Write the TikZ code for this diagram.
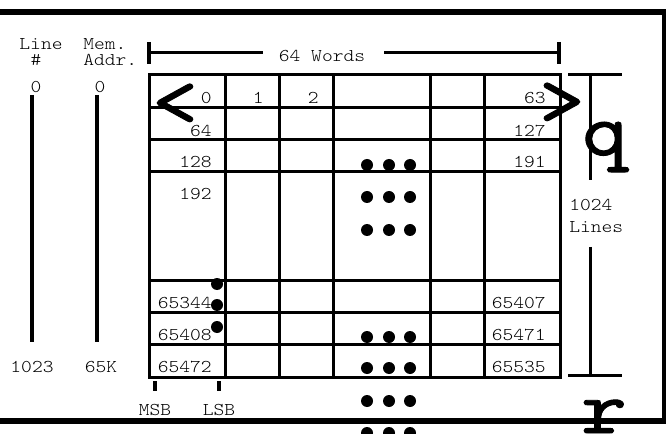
\documentclass[tikz,border=0pt]{standalone}
\usepackage{fontspec}
\setmonofont{lmmonolt10-regular.otf}[FakeStretch=1.14]
\newfontfamily\glyphfont{lmmono10-regular.otf}[FakeStretch=1.14,FakeBold=1.2]
\usetikzlibrary{positioning}

\tikzset{
  lbl/.style={font=\ttfamily\fontsize{13.5}{16}\selectfont,inner sep=0pt},
  cell/.style={lbl,anchor=base east},
  bigglyph/.style={font=\glyphfont\fontsize{57}{60}\selectfont,inner sep=0pt},
  gridline/.style={line width=2.25pt,line cap=rect},
  dimline/.style={line width=2.25pt},
  tickline/.style={line width=3pt},
  frameline/.style={line width=4.5pt},
}

\begin{document}
\begin{tikzpicture}[x=0.75pt,y=-0.75pt]
  \useasboundingbox (0,0) rectangle (666,434);
  \fill[white] (0,0) rectangle (666,434);
  \clip (0,0) rectangle (666,434);
  % outer frame (top, right, bottom)
  \draw[frameline] (0,12) -- (666,12);
  \draw[line width=3pt] (664,12) -- (664,421);
  \draw[frameline] (0,421) -- (666,421);
  % column heads on the left
  \node[lbl,anchor=base] (hline) at (41,50) {Line};
  \node[lbl,anchor=base] (hnum) at (36,66) {\#};
  \node[lbl,anchor=base] (zl) at (36,93) {0};
  \node[lbl,anchor=base west] (hmem) at (83,50) {Mem.};
  \node[lbl,anchor=base west] (haddr) at (83,66) {Addr.};
  \node[lbl,anchor=base] (za) at (100,93) {0};
  \node[lbl,anchor=base] (l1023) at (32,372) {1023};
  \node[lbl,anchor=base] (a65k) at (101,372) {65K};
  \coordinate (ltop) at (32,95);  \coordinate (lend) at (32,342);
  \coordinate (atop) at (97,95);  \coordinate (aend) at (97,342);
  \draw[line width=2.5pt] (ltop) -- (lend);
  \draw[line width=2.5pt] (atop) -- (aend);
  % 64 words
  \coordinate (wl) at (149,53);
  \coordinate (wr) at (559,53);
  \node[lbl,anchor=base] (words) at (322,62) {64 Words};
  \draw[tickline] (149,42) -- (149,64);
  \draw[tickline] (559,42) -- (559,64);
  \draw[dimline] (wl) -- (263,53);
  \draw[dimline] (384,53) -- (wr);
  % memory grid
  \foreach \x in {149,225,279,333,430,484,560}
    \draw[gridline] (\x,75) -- (\x,377);
  \foreach \y in {75,108,140,172,280,312,344,377}
    \draw[gridline] (149,\y) -- (560,\y);
  % addresses
  \foreach \t/\y in {0/104,64/137,128/168,192/200,65344/308,65408/340,65472/372}
    \node[cell] (m\t) at (212,\y) {\t};
  \node[cell] (w1) at (264,104) {1};
  \node[cell] (w2) at (319,104) {2};
  \foreach \t/\y in {63/104,127/137,191/168,65407/308,65471/340,65535/372}
    \node[cell] (m\t) at (546,\y) {\t};
  % dots
  \foreach \y in {165,197,230,337,368,401,433}
    \foreach \x in {367,389,410}
      \fill (\x,\y) circle[radius=6];
  \foreach \y in {284,305,327}
    \fill (217,\y) circle[radius=6];
  % 1024 lines
  \coordinate (ntop) at (590,75);
  \coordinate (nbot) at (590,375);
  \draw[dimline] (568,75) -- (622,75);
  \draw[dimline] (568,375) -- (622,375);
  \node[lbl,anchor=base west] (n1024) at (569,211) {1024};
  \node[lbl,anchor=base west] (nlines) at (569,233) {Lines};
  \draw[dimline] (ntop) -- (590,180);
  \draw[dimline] (590,247) -- (nbot);
  % MSB / LSB
  \draw[tickline] (155,381) -- (155,391);
  \draw[tickline] (219,381) -- (219,391);
  \node[lbl,anchor=base] (msb) at (155,415) {MSB};
  \node[lbl,anchor=base] (lsb) at (219,415) {LSB};
  % stray glyphs
  \node[bigglyph] (lt) at (175,105) {<};
  \node[bigglyph] (gt) at (562,104) {>};
  \node[bigglyph] (qq) at (605,147) {q};
  \node[bigglyph,anchor=base] (rr) at (604,433) {r};
\end{tikzpicture}
\end{document}
